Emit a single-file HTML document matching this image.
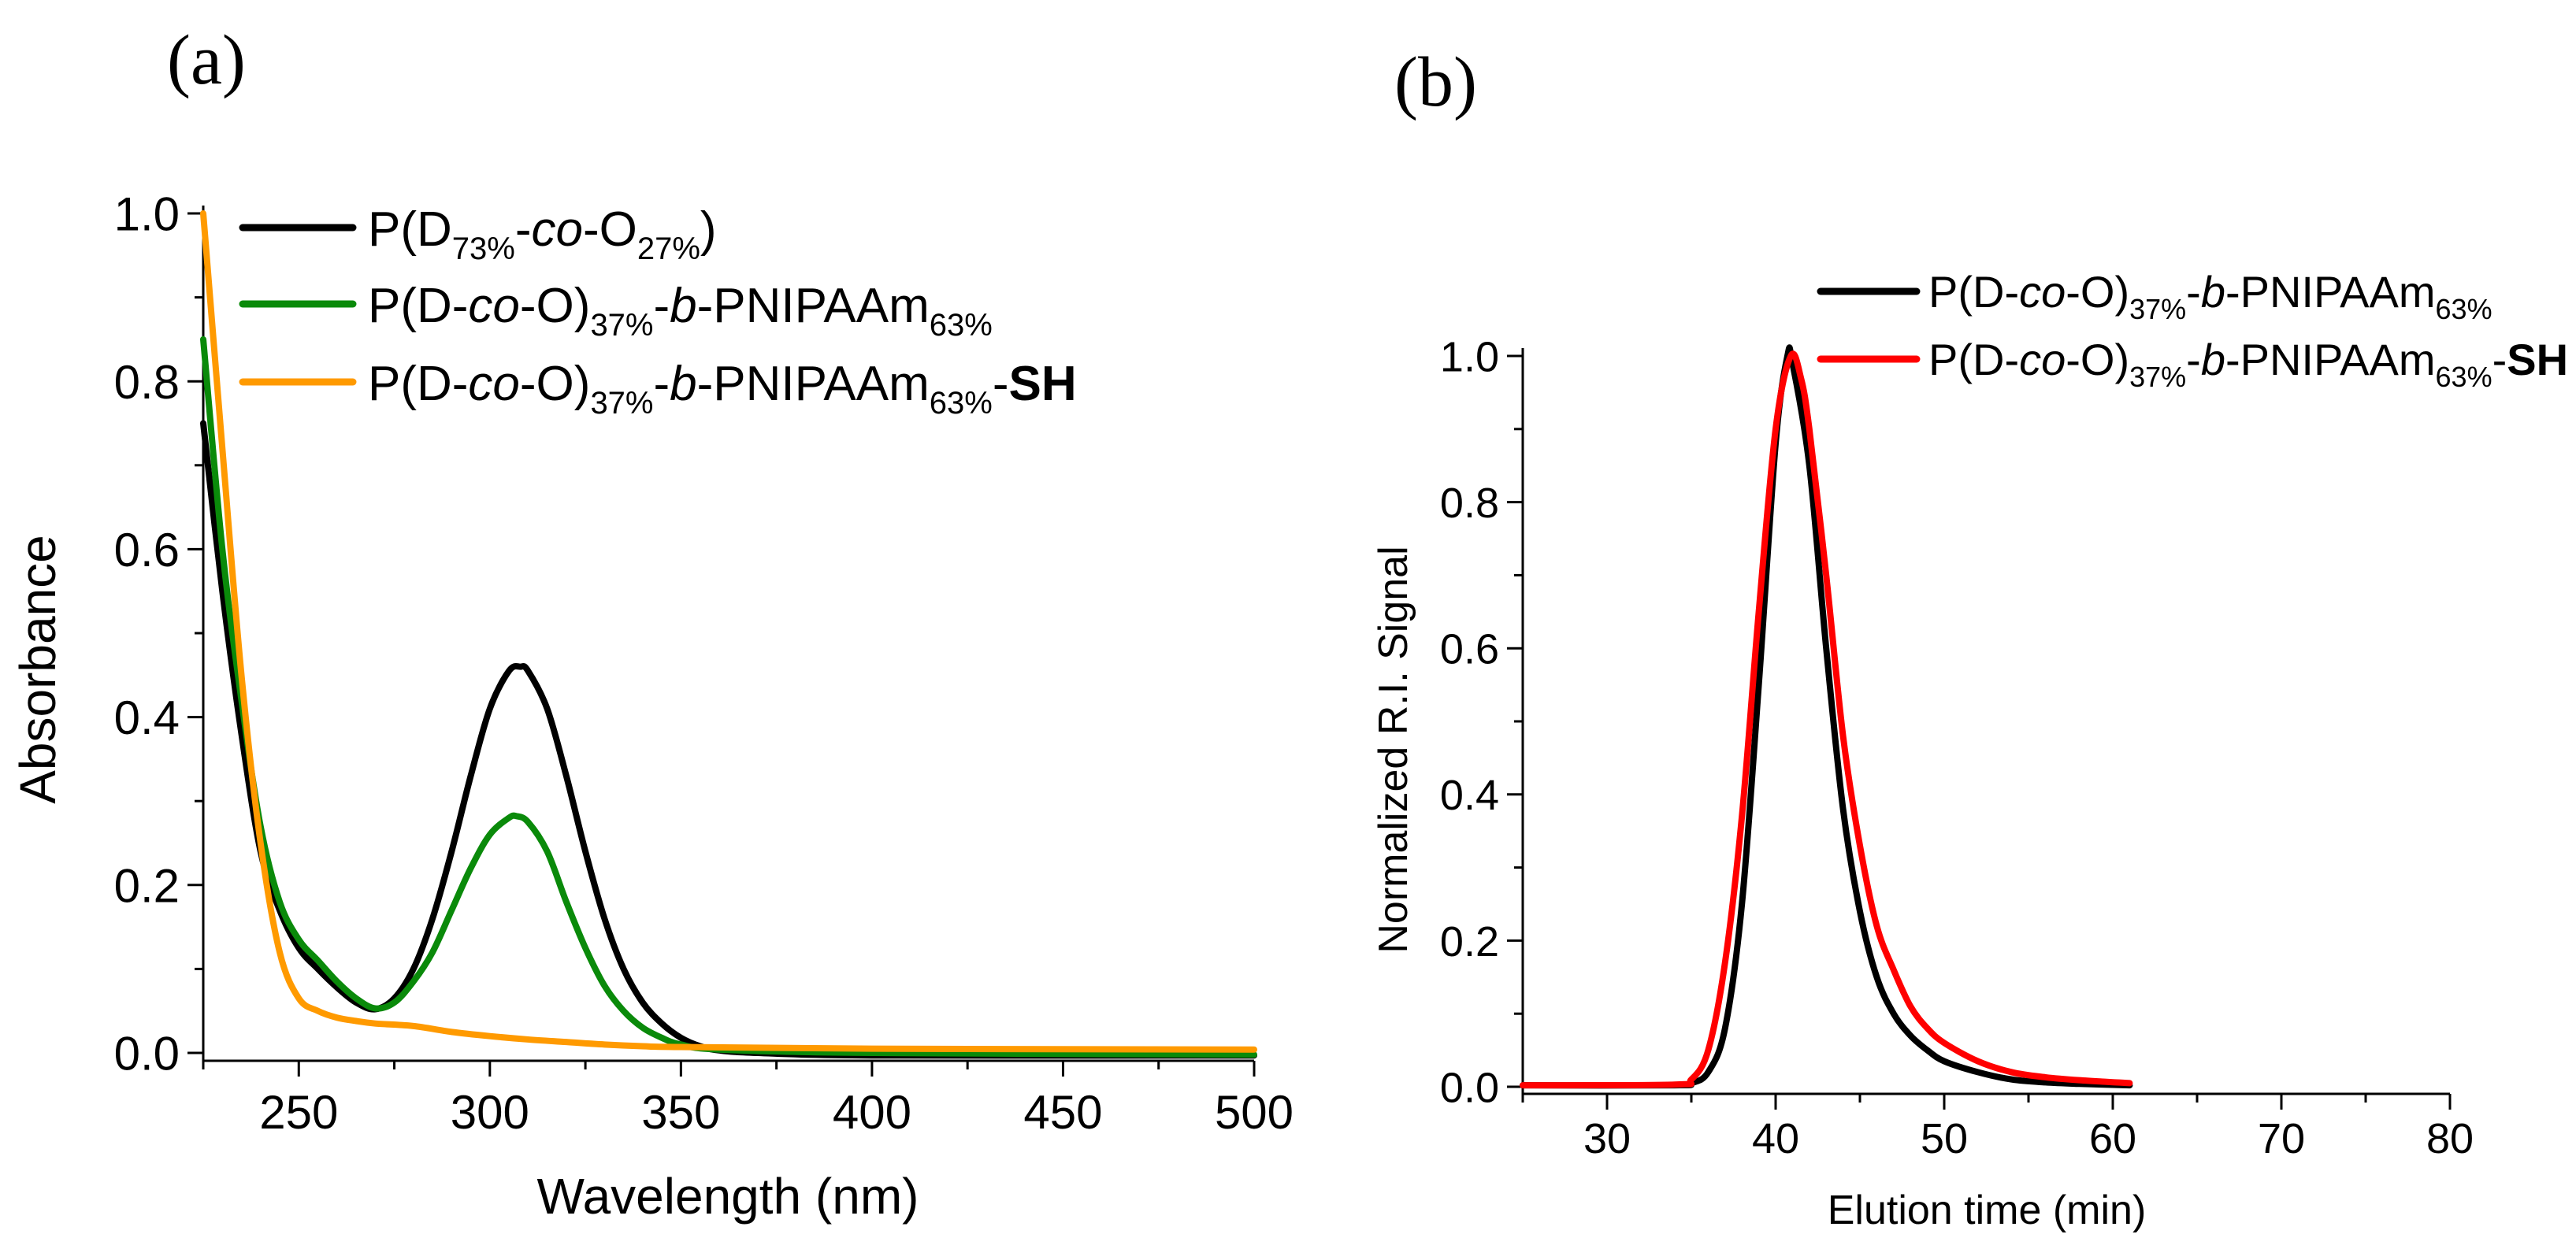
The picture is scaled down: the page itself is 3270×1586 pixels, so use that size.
<!DOCTYPE html>
<html><head><meta charset="utf-8"><style>
html,body{margin:0;padding:0;background:#fff;overflow:hidden;}
svg{display:block;font-family:"Liberation Sans",Arial,sans-serif;}
</style></head><body>
<svg id="fig" width="3270" height="1586" viewBox="0 0 3270 1586" xmlns="http://www.w3.org/2000/svg">
<text x="212" y="106" font-family="Liberation Serif,serif" font-size="90">(a)</text>
<text x="1770" y="134" font-family="Liberation Serif,serif" font-size="90">(b)</text>
<g id="pa"></g>
<g id="pb"></g>
<g>
 <line x1="308" y1="289" x2="448" y2="289" stroke="#000" stroke-width="9" stroke-linecap="round"/>
 <text x="467" y="312" font-size="62">P(D<tspan font-size="40" dy="17">73%</tspan><tspan dy="-17">-</tspan><tspan font-style="italic">co</tspan>-O<tspan font-size="40" dy="17">27%</tspan><tspan dy="-17">)</tspan></text>
 <line x1="308" y1="386" x2="448" y2="386" stroke="#0a8a0a" stroke-width="9" stroke-linecap="round"/>
 <text x="467" y="409" font-size="62">P(D-<tspan font-style="italic">co</tspan>-O)<tspan font-size="40" dy="17">37%</tspan><tspan dy="-17">-</tspan><tspan font-style="italic">b</tspan>-PNIPAAm<tspan font-size="40" dy="17">63%</tspan></text>
 <line x1="308" y1="485" x2="448" y2="485" stroke="#ff9a00" stroke-width="9" stroke-linecap="round"/>
 <text x="467" y="508" font-size="62">P(D-<tspan font-style="italic">co</tspan>-O)<tspan font-size="40" dy="17">37%</tspan><tspan dy="-17">-</tspan><tspan font-style="italic">b</tspan>-PNIPAAm<tspan font-size="40" dy="17">63%</tspan><tspan dy="-17">-</tspan><tspan font-weight="bold">SH</tspan></text>
</g>
<g>
 <line x1="2311" y1="370" x2="2433" y2="370" stroke="#000" stroke-width="9" stroke-linecap="round"/>
 <text x="2448" y="390" font-size="56">P(D-<tspan font-style="italic">co</tspan>-O)<tspan font-size="36" dy="15">37%</tspan><tspan dy="-15">-</tspan><tspan font-style="italic">b</tspan>-PNIPAAm<tspan font-size="36" dy="15">63%</tspan></text>
 <line x1="2311" y1="456" x2="2433" y2="456" stroke="#ff0000" stroke-width="9" stroke-linecap="round"/>
 <text x="2448" y="476" font-size="56">P(D-<tspan font-style="italic">co</tspan>-O)<tspan font-size="36" dy="15">37%</tspan><tspan dy="-15">-</tspan><tspan font-style="italic">b</tspan>-PNIPAAm<tspan font-size="36" dy="15">63%</tspan><tspan dy="-15">-</tspan><tspan font-weight="bold">SH</tspan></text>
</g>
</svg>
<script>
const NS="http://www.w3.org/2000/svg";
// Panel A data
const aX=[225,230,235,240,245,250,255,260,265,270,275,280,285,290,295,300,305,308,310,315,320,325,330,335,340,345,350,355,360,370,400,500];
const aBlack=[0.75,0.55,0.38,0.24,0.17,0.125,0.1,0.078,0.06,0.052,0.065,0.1,0.16,0.24,0.33,0.41,0.455,0.46,0.455,0.41,0.33,0.24,0.16,0.1,0.06,0.035,0.018,0.008,0.003,0,-0.003,-0.003];
const aGreenX=[225,230,235,240,245,250,255,260,265,270,275,280,285,290,295,300,305,307,310,315,320,325,330,335,340,345,350,360,400,500];
const aGreen=[0.85,0.6,0.42,0.27,0.18,0.135,0.11,0.085,0.065,0.053,0.06,0.085,0.12,0.17,0.22,0.26,0.28,0.282,0.275,0.24,0.18,0.125,0.08,0.05,0.03,0.018,0.01,0.004,0,-0.002];
const aOrangeX=[225,230,235,240,245,250,255,260,265,270,280,290,300,310,320,330,340,350,400,500];
const aOrange=[1.0,0.72,0.45,0.25,0.12,0.065,0.05,0.042,0.038,0.035,0.032,0.025,0.02,0.016,0.013,0.01,0.008,0.007,0.005,0.004];
const aXTicks=[250,300,350,400,450,500];
const aYTicks=[0.0,0.2,0.4,0.6,0.8,1.0];
// Panel B data
const bBlackX=[25,34,35,36,37,38,39,40,40.7,41,42,43,44,45,46,47,48,49,50,52,54,56,58,61];
const bBlack=[0.002,0.002,0.005,0.02,0.08,0.25,0.55,0.88,1.0,0.99,0.85,0.6,0.38,0.24,0.15,0.1,0.07,0.05,0.035,0.02,0.01,0.006,0.004,0.002];
const bRedX=[25,34,35,36,37,38,39,40,40.9,41.5,42,43,44,45,46,47,48,49,50,52,54,56,58,61];
const bRed=[0.002,0.003,0.01,0.05,0.17,0.37,0.65,0.9,1.0,0.97,0.9,0.7,0.48,0.33,0.22,0.16,0.11,0.08,0.06,0.035,0.02,0.013,0.009,0.005];
const bXTicks=[30,40,50,60,70,80];
const bYTicks=[0.0,0.2,0.4,0.6,0.8,1.0];

function el(p,t,a){const e=document.createElementNS(NS,t);for(const k in a)e.setAttribute(k,a[k]);p.appendChild(e);return e;}
function smooth(pts){let d="M"+pts[0][0]+","+pts[0][1];for(let i=0;i<pts.length-1;i++){const p0=pts[Math.max(i-1,0)],p1=pts[i],p2=pts[i+1],p3=pts[Math.min(i+2,pts.length-1)];
d+=" C"+(p1[0]+(p2[0]-p0[0])/6)+","+(p1[1]+(p2[1]-p0[1])/6)+" "+(p2[0]-(p3[0]-p1[0])/6)+","+(p2[1]-(p3[1]-p1[1])/6)+" "+p2[0]+","+p2[1];}return d;}

function panel(g,cfg){
 const sx=v=>cfg.x0+(v-cfg.xmin)/(cfg.xmax-cfg.xmin)*(cfg.x1-cfg.x0);
 const sy=v=>cfg.y0+(v-0)/(1-0)*(cfg.y1-cfg.y0);
 const ax=el(g,"line",{x1:cfg.x0,y1:cfg.axY,x2:cfg.x1,y2:cfg.axY,stroke:"#000","stroke-width":3});
 
 
 const ay=el(g,"line",{x1:cfg.x0,y1:cfg.y1-10,x2:cfg.x0,y2:cfg.axY,stroke:"#000","stroke-width":3});
 
 
 for(let v=cfg.xmin;v<=cfg.xmax+1e-9;v+=cfg.xminor){const major=cfg.xt.some(t=>Math.abs(t-v)<1e-6);
  el(g,"line",{x1:sx(v),x2:sx(v),y1:cfg.axY,y2:cfg.axY+(major?20:11),stroke:"#000","stroke-width":3});}
 for(let v=0;v<=1.0001;v+=0.1){el(g,"line",{x1:cfg.x0,x2:cfg.x0-(Math.round(v*10)%2==0?20:11),y1:sy(v),y2:sy(v),stroke:"#000","stroke-width":3});}
 cfg.xt.forEach(v=>{const t=el(g,"text",{x:sx(v),y:cfg.xlabY,"font-size":cfg.fs,"text-anchor":"middle"});t.textContent=v;
  
  });
 cfg.yt.forEach(v=>{const t=el(g,"text",{x:cfg.x0-30,y:sy(v)+cfg.fs*0.36,"font-size":cfg.fs,"text-anchor":"end"});t.textContent=v.toFixed(1);
  
  });
 const xt=el(g,"text",{x:cfg.xtx,y:cfg.xty,"font-size":cfg.tfs,"text-anchor":"middle"});xt.textContent=cfg.xtitle;
 
 
 const yt=el(g,"text",{x:0,y:0,"font-size":cfg.tfs,"text-anchor":"middle",transform:`translate(${cfg.ytx},${cfg.yty}) rotate(-90)`});yt.textContent=cfg.ytitle;
 
 
 cfg.series.forEach(s=>{const pts=s.x.map((v,i)=>[sx(v),sy(s.y[i])]);
  const p=el(g,"path",{d:smooth(pts),fill:"none",stroke:s.c,"stroke-width":8,"stroke-linejoin":"round","stroke-linecap":"round"});
  
  });
}
panel(document.getElementById("pa"),{x0:258,x1:1592,xmin:225,xmax:500,xminor:25,y0:1337,y1:271,axY:1347,xt:aXTicks,yt:aYTicks,fs:60,tfs:64,xlabY:1433,
 xtitle:"Wavelength (nm)",xtx:924,xty:1541,ytitle:"Absorbance",ytx:70,yty:850,
 series:[{x:aX,y:aBlack,c:"#000",n:"series-black"},{x:aGreenX,y:aGreen,c:"#0a8a0a",n:"series-green"},{x:aOrangeX,y:aOrange,c:"#ff9a00",n:"series-orange"}]});
panel(document.getElementById("pb"),{x0:1933,x1:3110,xmin:25,xmax:80,xminor:5,y0:1380,y1:452,axY:1389,xt:bXTicks,yt:bYTicks,fs:54,tfs:52,xlabY:1464,
 xtitle:"Elution time (min)",xtx:2522,xty:1554,ytitle:"Normalized R.I. Signal",ytx:1786,yty:952,
 series:[{x:bBlackX,y:bBlack,c:"#000",n:"series-black-b"},{x:bRedX,y:bRed,c:"#ff0000",n:"series-red-b"}]});
</script>
</body></html>
